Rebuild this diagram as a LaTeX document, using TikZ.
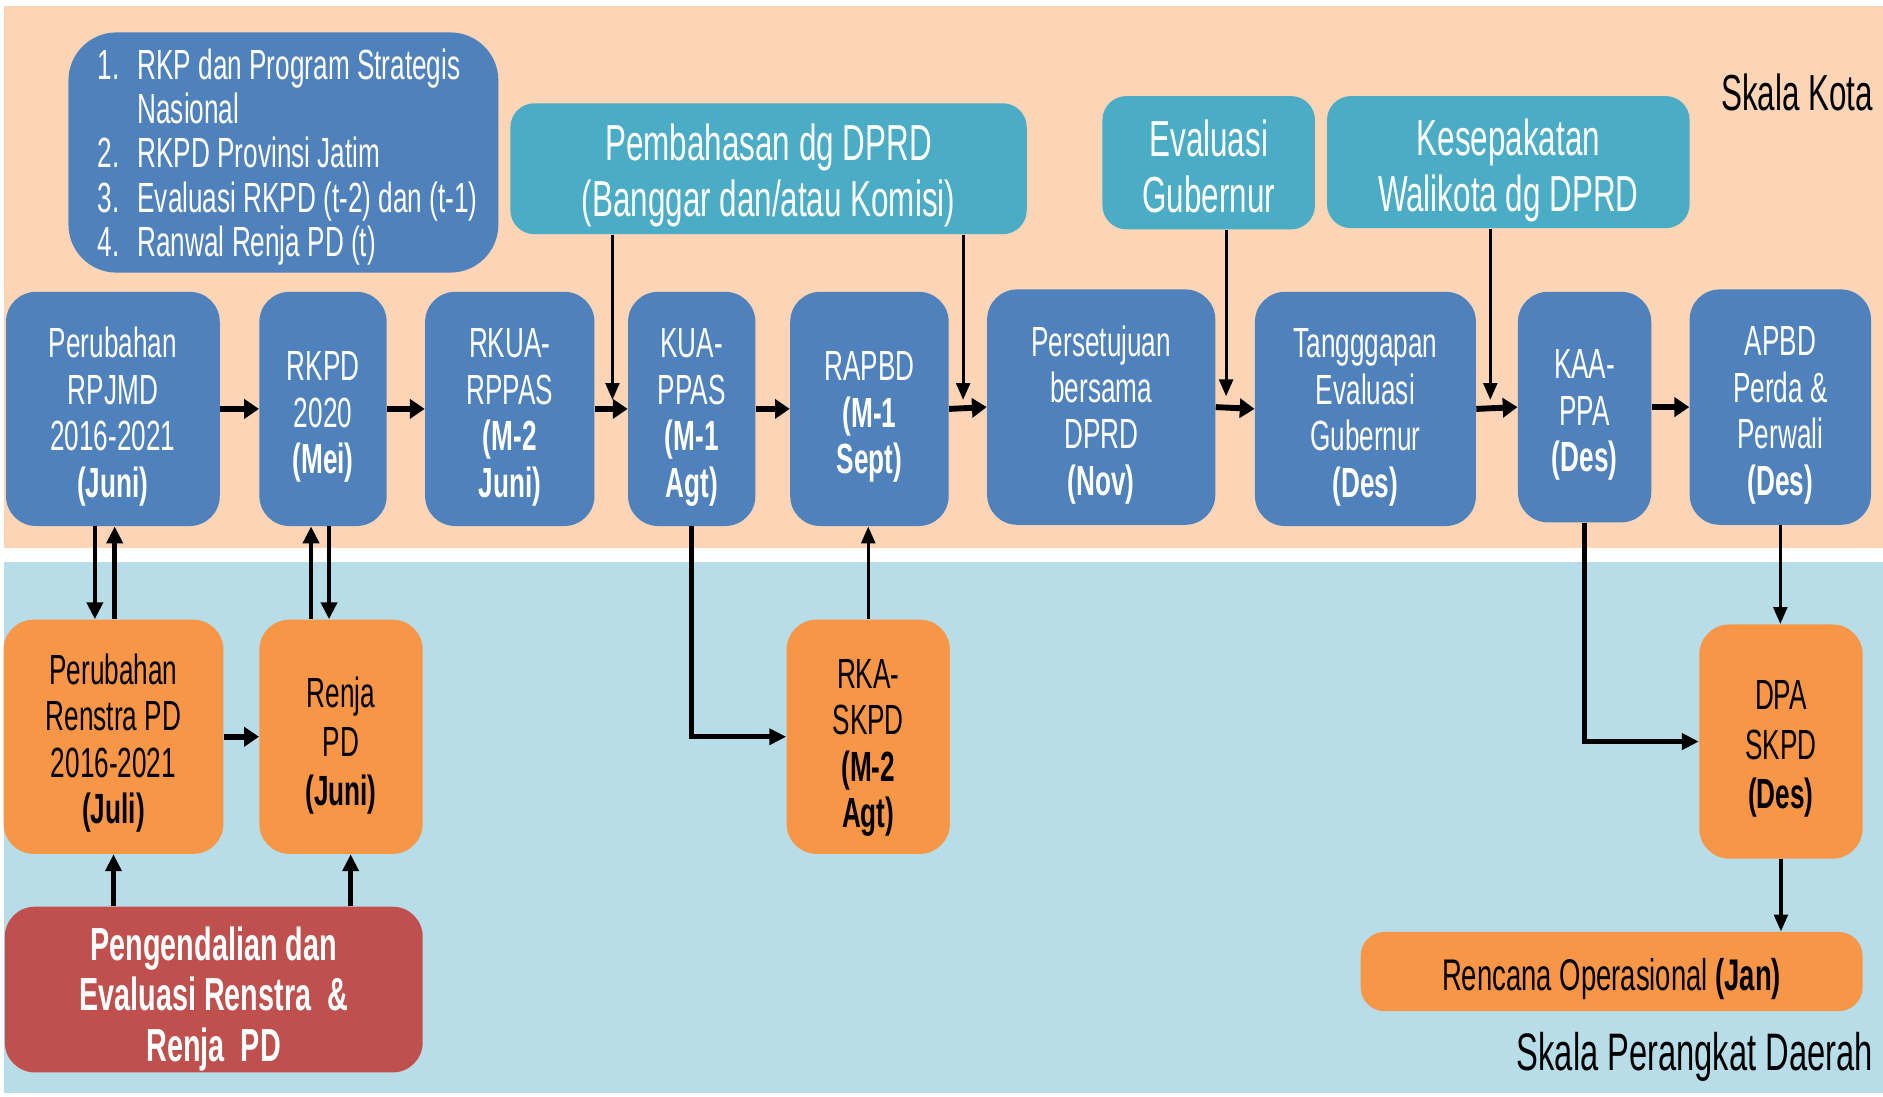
\documentclass[tikz,border=0pt]{standalone}
\usepackage{fontspec}
\setmainfont[FakeStretch=0.62]{Liberation Sans}
\usetikzlibrary{arrows.meta,calc}
\definecolor{peach}{HTML}{FBD5B5}
\definecolor{lblue}{HTML}{B7DDE8}
\definecolor{nblue}{HTML}{4F81BD}
\definecolor{tealb}{HTML}{4BACC6}
\definecolor{orng}{HTML}{F79646}
\definecolor{redb}{HTML}{C0504D}
\newcommand{\fsz}[2]{\fontsize{#1pt}{#2pt}\selectfont}
\newcommand{\boxtext}[4]{\node[txt,#1] (#2-t) at ([yshift=-#3]#2.center) {\begin{tabular}{@{}c@{}}#4\end{tabular}};}
\begin{document}
\begin{tikzpicture}[x=0.02cm,y=-0.02cm,
 sz/.style 2 args={minimum width=#1*0.02cm, minimum height=#2*0.02cm},
 box/.style={rounded corners=0.5cm, inner sep=0pt},
 bluebox/.style={box, fill=nblue},
 tealbox/.style={box, fill=tealb, rounded corners=0.4cm},
 orbox/.style={box, fill=orng},
 txt/.style={inner sep=0pt, align=center, text=white, font=\fsz{20}{22}},
 bk/.style={text=black},
 thk/.style={line width=2.8pt, -{Triangle[length=7pt,width=9pt]}},
 mid/.style={line width=2.2pt, -{Triangle[length=8pt,width=7.5pt]}},
 thn/.style={line width=1.5pt, -{Triangle[length=8pt,width=6.5pt]}},
 lbl/.style={inner sep=0pt, anchor=east, text=black}
]
\useasboundingbox (0,0) rectangle (1568,913);
\fill[white] (0,0) rectangle (1568,913);
\fill[peach] (3,5) rectangle (1568,456);
\fill[lblue] (3,468) rectangle (1568,910);

% top boxes
\node[box, fill=nblue, rounded corners=0.8cm, sz={358}{200}] (list) at (236,127) {};
\node[txt, font=\fsz{20}{21}, anchor=west] (list-t) at ([yshift=-3.1pt]list.center -| 81,0)
 {\begin{tabular}{@{}l@{\hspace{0.3cm}}l@{}}
 1. & RKP dan Program Strategis\\
    & Nasional\\
 2. & RKPD Provinsi Jatim\\
 3. & Evaluasi RKPD (t-2) dan (t-1)\\
 4. & Ranwal Renja PD (t)
 \end{tabular}};
\node[tealbox, sz={430}{109}] (pemb) at (640,140.5) {};
\boxtext{font=\fsz{24}{26.6}}{pemb}{4.1pt}{Pembahasan dg DPRD\\(Banggar dan/atau Komisi)}
\node[tealbox, sz={177}{111}] (evg) at (1006.5,135.5) {};
\boxtext{font=\fsz{24}{26.6}}{evg}{5pt}{Evaluasi\\Gubernur}
\node[tealbox, sz={302}{110}] (kes) at (1256,135) {};
\boxtext{font=\fsz{24}{26.6}}{kes}{4.7pt}{Kesepakatan\\Walikota dg DPRD}
\node[lbl, font=\fsz{24}{26}] (skk) at (1560,77) {Skala Kota};

% main row
\node[bluebox, sz={178}{195}] (rpjmd) at (94,340.5) {};
\boxtext{}{rpjmd}{4.4pt}{Perubahan\\RPJMD\\2016-2021\\\textbf{(Juni)}}
\node[bluebox, sz={106}{195}] (rkpd) at (269,340.5) {};
\boxtext{}{rkpd}{4.2pt}{RKPD\\2020\\\textbf{(Mei)}}
\node[bluebox, sz={141}{195}] (rkua) at (424.5,340.5) {};
\boxtext{}{rkua}{4.4pt}{RKUA-\\RPPAS\\\textbf{(M-2}\\\textbf{Juni)}}
\node[bluebox, sz={106}{195}] (kua) at (576,340.5) {};
\boxtext{}{kua}{4.4pt}{KUA-\\PPAS\\\textbf{(M-1}\\\textbf{Agt)}}
\node[bluebox, sz={132}{195}] (rapbd) at (724,340.5) {};
\boxtext{}{rapbd}{4.2pt}{RAPBD\\\textbf{(M-1}\\\textbf{Sept)}}
\node[bluebox, sz={190}{196}] (pers) at (917,339) {};
\boxtext{}{pers}{4.4pt}{Persetujuan\\bersama\\DPRD\\\textbf{(Nov)}}
\node[bluebox, sz={184}{195}] (tang) at (1137,340.5) {};
\boxtext{}{tang}{4.4pt}{Tangggapan\\Evaluasi\\Gubernur\\\textbf{(Des)}}
\node[bluebox, sz={111}{192}] (kaa) at (1319.5,339) {};
\boxtext{}{kaa}{4.1pt}{KAA-\\PPA\\\textbf{(Des)}}
\node[bluebox, sz={151}{196}] (apbd) at (1482.5,339) {};
\boxtext{}{apbd}{4.3pt}{APBD\\Perda \&\\Perwali\\\textbf{(Des)}}

% lower row
\node[orbox, sz={183}{195}] (renstra) at (94.5,613.5) {};
\boxtext{bk}{renstra}{3.75pt}{Perubahan\\Renstra PD\\2016-2021\\\textbf{(Juli)}}
\node[orbox, sz={136}{195}] (renja) at (284,613.5) {};
\boxtext{bk, font=\fsz{20}{23.2}}{renja}{4.7pt}{Renja\\PD\\\textbf{(Juni)}}
\node[box, fill=redb, sz={348}{138}] (peng) at (178,824) {};
\boxtext{font=\bfseries\fsz{22}{24}}{peng}{5.35pt}{Pengendalian dan\\Evaluasi Renstra \ \&\\Renja \ PD}
\node[orbox, sz={136}{195}] (rka) at (723,613.5) {};
\boxtext{bk}{rka}{5.6pt}{RKA-\\SKPD\\\textbf{(M-2}\\\textbf{Agt)}}
\node[orbox, sz={136}{195}] (dpa) at (1483,617.5) {};
\boxtext{bk, font=\fsz{20}{23.5}}{dpa}{3.6pt}{DPA\\SKPD\\\textbf{(Des)}}
\node[orbox, sz={418}{66}, rounded corners=0.4cm] (renop) at (1342,809) {};
\boxtext{bk, font=\fsz{21}{23}}{renop}{4.6pt}{Rencana Operasional \textbf{(Jan)}}
\node[lbl, font=\fsz{25}{27}] (skpd) at (1560,880) {Skala Perangkat Daerah};

% coordinates for arrow ends from top boxes
\coordinate (j1) at (510,333);
\coordinate (j2) at (802,333);
\coordinate (j3) at (1021,330);
\coordinate (j4) at (1241,333);

% horizontal arrows
\draw[thk] (rpjmd.east) -- (rkpd.west);
\draw[thk] (rkpd.east) -- (rkua.west);
\draw[thk] (rkua.east) -- (kua.west);
\draw[thk] (kua.east) -- (rapbd.west);
\draw[thk] (rapbd.east) -- (pers.west);
\draw[thk] (pers.east) -- (tang.west);
\draw[thk] (tang.east) -- (kaa.west);
\draw[thk] (kaa.east) -- (apbd.west);

% down arrows from top boxes
\draw[thn] (pemb.south -| j1) -- (j1);
\draw[thn] (pemb.south -| j2) -- (j2);
\draw[thn] (evg.south -| j3) -- (j3);
\draw[thn] (kes.south -| j4) -- (j4);

% between rows
\draw[mid] ([xshift=-0.3cm]rpjmd.south) -- ([xshift=-0.3cm]rpjmd.south |- renstra.north);
\draw[mid] ([xshift=0.02cm]renstra.north) -- ([xshift=0.02cm]renstra.north |- rpjmd.south);
\draw[mid] ([xshift=-0.5cm]renja.north) -- ([xshift=-0.5cm]renja.north |- rkpd.south);
\draw[mid] ([xshift=0.1cm]rkpd.south) -- ([xshift=0.1cm]rkpd.south |- renja.north);
\draw[thk] (renstra.east) -- (renja.west);
\draw[mid] (peng.north -| renstra.south) -- (renstra.south);
\draw[mid] ([xshift=0.16cm]renja.south |- peng.north) -- ([xshift=0.16cm]renja.south);

\draw[mid] (kua.south) |- (rka.west);
\draw[thn] (rka.north) -- (rka.north |- rapbd.south);
\draw[mid] (kaa.south) |- (dpa.west);
\draw[thn] (apbd.south) -- (apbd.south |- dpa.north);
\draw[thn] (dpa.south) -- (dpa.south |- renop.north);
\end{tikzpicture}
\end{document}
